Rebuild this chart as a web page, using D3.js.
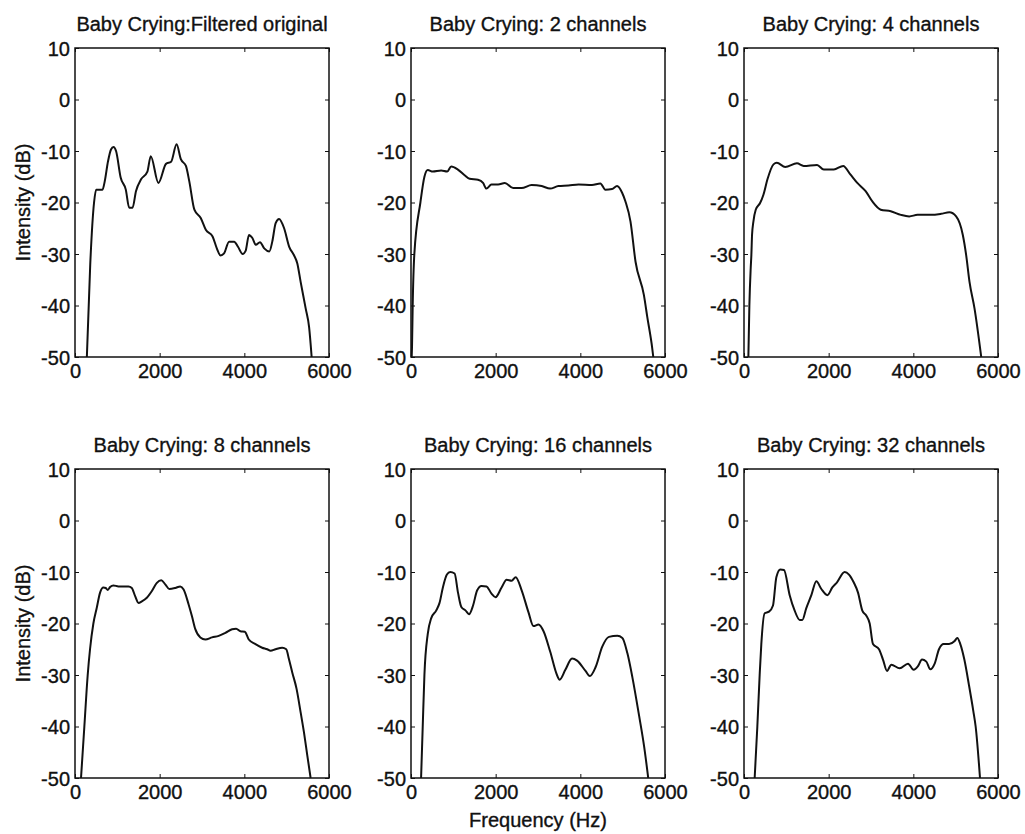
<!DOCTYPE html>
<html>
<head>
<meta charset="utf-8">
<script src="https://cdn.jsdelivr.net/npm/d3@7"></script>
<style>
  body { margin: 0; background: #fff; }
  svg { display: block; }
  text { font-family: "Liberation Sans", Arial, sans-serif; fill: #111; stroke: #111; stroke-width: 0.35px; }
</style>
</head>
<body>
<div id="chart"></div>
<script>
// spectra, [frequency Hz, intensity dB]
var originalSpec = [[280,-50],[360,-32],[450,-20],[500,-17.5],[650,-17.5],[700,-16],[780,-12],[850,-9.7],[910,-9.2],[970,-10],
  [1080,-15.2],[1200,-17.5],[1280,-21],[1360,-21],[1440,-17.8],[1560,-15.5],[1710,-14],[1790,-11],[1970,-16.2],[2150,-12.5],
  [2270,-12.1],[2400,-8.7],[2500,-11.6],[2620,-12.9],[2700,-15.9],[2820,-21.4],[2970,-23],[3090,-25.3],[3250,-26.6],[3350,-28.9],
  [3440,-30.3],[3520,-29.9],[3640,-27.6],[3760,-27.6],[3850,-28.6],[3960,-30],[4030,-29.4],[4110,-26.3],[4190,-26.9],[4270,-28.2],
  [4370,-27.7],[4470,-28.9],[4590,-29.5],[4660,-27.6],[4740,-24],[4820,-23.2],[4940,-25],[5060,-28.6],[5170,-30.2],[5250,-31.8],
  [5330,-35.4],[5450,-40.6],[5530,-44.2],[5590,-50]];

var spec2ch = [[16,-50],[24,-48],[40,-40],[79,-30],[222,-20],[317,-15],[396,-13.7],[515,-14],[712,-13.8],[855,-14],[950,-13],
  [1108,-13.6],[1267,-14.7],[1385,-15.4],[1583,-15.6],[1702,-16.2],[1781,-17.3],[1900,-16.5],[2058,-16.5],[2216,-16.2],[2414,-17.2],
  [2612,-17.2],[2850,-16.6],[3087,-16.8],[3285,-17.3],[3483,-16.8],[3721,-16.7],[3958,-16.5],[4275,-16.6],[4473,-16.3],[4591,-17.5],
  [4750,-17.4],[4868,-16.8],[4987,-18.1],[5066,-19.8],[5185,-23.7],[5304,-31.5],[5502,-38],[5581,-42.2],[5700,-48.4],[5723,-50]];

var spec4ch = [[103,-50],[127,-40],[158,-32.8],[174,-30.2],[190,-26.3],[222,-23.7],[277,-21.4],[380,-20.1],[459,-18.5],[554,-15.5],
  [697,-12.6],[776,-12.3],[974,-13.1],[1251,-12.4],[1409,-12.9],[1726,-12.7],[1884,-13.6],[2121,-13.6],[2343,-12.9],[2517,-14.6],
  [2676,-16.2],[2873,-17.8],[3032,-19.8],[3230,-21.4],[3467,-21.7],[3705,-22.4],[3903,-22.7],[4100,-22.4],[4417,-22.4],[4655,-22.2],
  [4852,-21.9],[5011,-22.7],[5169,-26.3],[5248,-30.2],[5327,-35.4],[5446,-40.6],[5604,-50]];

var spec8ch = [[142,-50],[221,-40],[300,-30],[355,-25],[434,-20],[513,-17],[592,-14],[671,-13],[726,-13.1],[774,-13.5],[829,-12.9],
  [908,-12.6],[1026,-12.8],[1263,-12.8],[1342,-13.1],[1421,-14.7],[1500,-16],[1579,-15.7],[1697,-15],[1816,-13.7],[1934,-12.1],
  [2037,-11.6],[2132,-12.4],[2226,-13.3],[2369,-13.1],[2487,-12.8],[2566,-13.4],[2684,-16.3],[2763,-18.6],[2842,-21.1],[2961,-22.7],
  [3079,-23.1],[3237,-22.7],[3395,-22.4],[3553,-21.8],[3711,-21.1],[3805,-21],[3908,-21.5],[4011,-21.6],[4105,-23.1],[4263,-24],
  [4421,-24.7],[4540,-25],[4619,-25.3],[4737,-25],[4895,-24.7],[4990,-25],[5053,-26.9],[5132,-29.5],[5234,-32.7],[5329,-37.2],
  [5408,-41.1],[5487,-45.6],[5566,-50]];

var spec16ch = [[238,-50],[277,-40],[317,-30],[396,-22],[476,-19],[594,-17.5],[674,-16],[753,-13],[848,-10.5],[927,-10],[1030,-10.3],
  [1110,-14],[1189,-16.8],[1292,-17.5],[1371,-18.2],[1466,-16.5],[1561,-13.6],[1664,-12.7],[1783,-12.8],[1902,-14.2],[1997,-14.9],
  [2140,-13],[2259,-11.5],[2378,-11.7],[2473,-11],[2616,-13.6],[2774,-17.8],[2893,-20.5],[3012,-20.2],[3131,-21.5],[3289,-25.5],
  [3448,-30],[3511,-30.9],[3646,-29],[3804,-26.8],[3923,-27.2],[4122,-29.2],[4225,-30.2],[4359,-28.5],[4518,-24.5],[4676,-22.6],
  [4874,-22.4],[4993,-22.8],[5112,-25.8],[5231,-30.5],[5390,-38],[5509,-44],[5604,-50]];

var spec32ch = [[252,-50],[315,-40],[370,-30],[409,-24],[488,-18],[591,-17.7],[685,-16.5],[764,-11],[858,-9.5],[945,-9.6],[1079,-14.5],
  [1197,-17.5],[1315,-19.3],[1378,-19.3],[1472,-17],[1591,-14.5],[1709,-11.8],[1827,-13.3],[1969,-14.5],[2087,-13],[2197,-12],
  [2378,-10],[2480,-10.5],[2591,-12],[2693,-14],[2795,-17.5],[2890,-18.5],[2969,-20],[3047,-24],[3189,-25],[3283,-27],[3378,-29.2],
  [3480,-28],[3677,-28.7],[3874,-27.8],[4008,-29],[4110,-28.3],[4205,-27],[4307,-27.4],[4402,-28.9],[4504,-27.8],[4606,-25],
  [4717,-24],[4843,-24],[4976,-23.4],[5039,-22.8],[5110,-24],[5205,-27],[5315,-32],[5417,-37],[5472,-40],[5575,-50]];

var panelTitles = ["Baby Crying:Filtered original", "Baby Crying: 2 channels", "Baby Crying: 4 channels",
                   "Baby Crying: 8 channels", "Baby Crying: 16 channels", "Baby Crying: 32 channels"];
var panelSpectra = [originalSpec, spec2ch, spec4ch, spec8ch, spec16ch, spec32ch];

var xTicks = [0, 2000, 4000, 6000];
var yTicks = [10, 0, -10, -20, -30, -40, -50];

var svgWidth = 1025;
var svgHeight = 834;

var colLeft = [75, 411, 744];
var rowTop = [48, 469];
var plotW = 254;
var plotH = 309;

var svg = d3.select("#chart")
  .append("svg")
  .attr("width", svgWidth)
  .attr("height", svgHeight);

var x = d3.scaleLinear().domain([0, 6000]).range([0, plotW]);
var y = d3.scaleLinear().domain([-50, 10]).range([plotH, 0]);

// plain labels: hyphen minus, no thousands comma
var plainFmt = d => String(d);

var line = d3.line()
  .x(d => x(d[0]))
  .y(d => y(d[1]))
  .curve(d3.curveMonotoneX);

panelSpectra.forEach(function(spec, i) {
  var col = i % 3, row = Math.floor(i / 3);
  var g = svg.append("g")
    .attr("transform", `translate(${colLeft[col]}, ${rowTop[row]})`);

  // inward ticks on all four sides, MATLAB style
  var left = g.append("g").call(d3.axisLeft(y).tickValues(yTicks).tickSize(-4).tickPadding(5).tickFormat(plainFmt));
  var right = g.append("g").attr("transform", `translate(${plotW},0)`)
    .call(d3.axisRight(y).tickValues(yTicks).tickSize(-4).tickFormat(""));
  var bottom = g.append("g").attr("transform", `translate(0,${plotH})`)
    .call(d3.axisBottom(x).tickValues(xTicks).tickSize(-4).tickPadding(7).tickFormat(plainFmt));
  var top = g.append("g")
    .call(d3.axisTop(x).tickValues(xTicks).tickSize(-4).tickFormat(""));

  [left, right, bottom, top].forEach(function(a) {
    a.select(".domain").remove();
    a.selectAll("line").attr("stroke", "#111").attr("stroke-width", 1);
    a.selectAll("text").attr("font-size", 20).attr("fill", "#111")
      .attr("font-family", "Liberation Sans, Arial, sans-serif");
  });
  left.selectAll("text").attr("dy", "0.36em");
  bottom.selectAll("text").attr("dy", "0.72em");

  g.append("path")
    .datum(spec)
    .attr("fill", "none")
    .attr("stroke", "#111")
    .attr("stroke-width", 2)
    .attr("stroke-linejoin", "round")
    .attr("d", line);

  g.append("rect")
    .attr("width", plotW)
    .attr("height", plotH)
    .attr("fill", "none")
    .attr("stroke", "#111")
    .attr("stroke-width", 1.5);

  g.append("text")
    .attr("x", plotW / 2)
    .attr("y", -17)
    .attr("text-anchor", "middle")
    .attr("font-size", 20)
    .text(panelTitles[i]);

  if (col === 0) {
    g.append("text")
      .attr("transform", `translate(${30 - colLeft[0]}, ${plotH / 2}) rotate(-90)`)
      .attr("text-anchor", "middle")
      .attr("font-size", 20)
      .text("Intensity (dB)");
  }
  if (row === 1 && col === 1) {
    g.append("text")
      .attr("x", plotW / 2)
      .attr("y", plotH + 49)
      .attr("text-anchor", "middle")
      .attr("font-size", 20)
      .text("Frequency (Hz)");
  }
});
</script>
</body>
</html>
